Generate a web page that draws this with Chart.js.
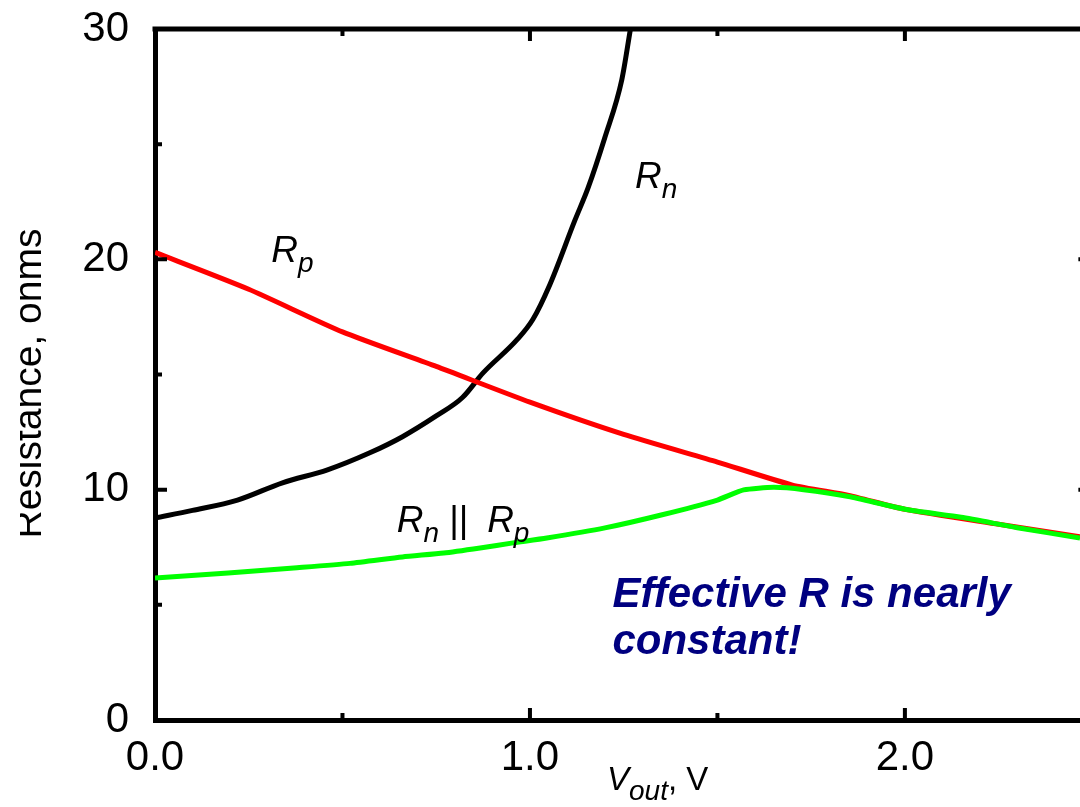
<!DOCTYPE html>
<html>
<head>
<meta charset="utf-8">
<script src="https://cdn.jsdelivr.net/npm/chart.js@4.4.0/dist/chart.umd.min.js"></script>
<style>
  html, body { margin: 0; padding: 0; background: #fff; overflow: hidden; }
  canvas { display: block; }
</style>
</head>
<body>
<canvas id="chart" width="1110" height="807"></canvas>
<script>
// Data (V_out in volts, resistance in ohms)
const vRn = [0, 0.10, 0.22, 0.34, 0.46, 0.573, 0.66, 0.75, 0.82, 0.875, 0.965, 1.008, 1.053, 1.12, 1.155, 1.20, 1.245, 1.268];
const rn  = [8.77, 9.1, 9.55, 10.3, 10.86, 11.6, 12.3, 13.2, 14.0, 15.07, 16.5, 17.4, 18.9, 21.7, 23.1, 25.3, 27.8, 30];

const vRp = [0, 0.25, 0.5, 0.75, 1.0, 1.25, 1.5, 1.7, 1.85, 2.0, 2.25, 2.467];
const rp  = [20.3, 18.7, 16.85, 15.35, 13.8, 12.4, 11.2, 10.2, 9.75, 9.15, 8.5, 7.95];

const vPar = [0, 0.195, 0.37, 0.52, 0.66, 0.77, 0.867, 0.955, 1.045, 1.2, 1.35, 1.5, 1.57, 1.65, 1.73, 1.85, 2.0, 2.15, 2.3, 2.467];
const rpar = [6.16, 6.38, 6.6, 6.8, 7.08, 7.25, 7.47, 7.69, 7.9, 8.34, 8.9, 9.55, 9.99, 10.1, 10.0, 9.7, 9.15, 8.8, 8.35, 7.9];

const yTicks = [0, 10, 20, 30];
const xTicks = [0, 1, 2];
const X_MAX = 2.467; // right edge of the picture (axis frame continues to 2.5)

// target plot frame in page pixels
const AREA_TOP = 29;
const AREA_RIGHT = 1080;

const FONT = '"Liberation Sans", Arial, sans-serif';

const toPts = (xs, ys) => xs.map((x, i) => ({ x: x, y: ys[i] }));
const near = (v, list) => list.some(t => Math.abs(v - t) < 1e-6);

// Inward tick marks, top frame line and the text labels
const decorPlugin = {
    id: 'decor',
    afterDraw(chart) {
        const ctx = chart.ctx;
        const xs = chart.scales.x;
        const ys = chart.scales.y;
        const a = chart.chartArea;
        ctx.save();
        ctx.strokeStyle = '#000';
        ctx.lineCap = 'butt';

        // top frame
        ctx.lineWidth = 5;
        ctx.beginPath();
        ctx.moveTo(a.left - 2.5, a.top);
        ctx.lineTo(a.right + 40, a.top);
        ctx.stroke();

        ctx.lineWidth = 4;
        const rightX = xs.getPixelForValue(2.5);
        [5, 10, 15, 20, 25].forEach(v => {
            const py = ys.getPixelForValue(v);
            const len = v % 10 === 0 ? 12 : 7;
            ctx.beginPath();
            ctx.moveTo(a.left, py); ctx.lineTo(a.left + len, py);
            ctx.moveTo(rightX, py); ctx.lineTo(rightX - len - 2, py);
            ctx.stroke();
        });
        [0.5, 1.0, 1.5, 2.0].forEach(v => {
            const px = xs.getPixelForValue(v);
            const len = Number.isInteger(v) ? 12 : 7;
            ctx.beginPath();
            ctx.moveTo(px, a.bottom); ctx.lineTo(px, a.bottom - len);
            ctx.moveTo(px, a.top); ctx.lineTo(px, a.top + len);
            ctx.stroke();
        });

        ctx.fillStyle = '#000';
        ctx.textBaseline = 'alphabetic';
        ctx.textAlign = 'left';

        // R with subscript helper
        const sub = (x, y, main, s, size, subSize) => {
            ctx.font = 'italic ' + size + 'px ' + FONT;
            ctx.fillText(main, x, y);
            const w = ctx.measureText(main).width;
            ctx.font = 'italic ' + subSize + 'px ' + FONT;
            ctx.fillText(s, x + w, y + 10);
            return x + w + ctx.measureText(s).width;
        };

        // curve labels
        sub(xs.getPixelForValue(0.31), ys.getPixelForValue(19.9), 'R', 'p', 37, 28);
        sub(xs.getPixelForValue(1.28), ys.getPixelForValue(23.1), 'R', 'n', 37, 28);
        const by = ys.getPixelForValue(8.16);
        const x0 = sub(xs.getPixelForValue(0.645), by, 'R', 'n', 37, 28);
        ctx.font = '37px ' + FONT;
        ctx.fillText('||', x0 + 10, by);
        sub(x0 + 48, by, 'R', 'p', 37, 28);

        // note
        ctx.fillStyle = '#000080';
        ctx.font = 'italic bold 42px ' + FONT;
        ctx.fillText('Effective R is nearly', xs.getPixelForValue(1.22), ys.getPixelForValue(4.9));
        ctx.fillText('constant!', xs.getPixelForValue(1.22), ys.getPixelForValue(2.87));

        // x axis title
        ctx.fillStyle = '#000';
        const vx = sub(607, 790, 'V', 'out', 33, 28);
        ctx.font = '33px ' + FONT;
        ctx.fillText(', V', vx, 790);

        // y axis title (clipped at the left like the source picture)
        ctx.save();
        ctx.beginPath();
        ctx.rect(20, 0, 140, 807);
        ctx.clip();
        ctx.translate(41, (a.top + a.bottom) / 2 + 9);
        ctx.rotate(-Math.PI / 2);
        ctx.textAlign = 'center';
        ctx.font = '39px ' + FONT;
        ctx.fillText('Resistance, ohms', 0, 0);
        ctx.restore();

        ctx.restore();
    }
};

const chart = new Chart(document.getElementById('chart'), {
    type: 'line',
    data: {
        datasets: [
            {
                label: 'Rn || Rp',
                data: toPts(vPar, rpar),
                borderColor: '#00ff00',
                borderWidth: 5,
                pointRadius: 0,
                tension: 0.2
            },
            {
                label: 'Rp',
                data: toPts(vRp, rp),
                borderColor: '#ff0000',
                borderWidth: 5,
                pointRadius: 0,
                tension: 0.2
            },
            {
                label: 'Rn',
                data: toPts(vRn, rn),
                borderColor: '#000000',
                borderWidth: 5,
                pointRadius: 0,
                cubicInterpolationMode: 'monotone'
            }
        ]
    },
    options: {
        responsive: false,
        animation: false,
        devicePixelRatio: 1,
        layout: { padding: { top: AREA_TOP, right: 0, left: 0, bottom: 0 } },
        plugins: {
            legend: { display: false },
            tooltip: { enabled: false }
        },
        scales: {
            x: {
                type: 'linear',
                min: 0,
                max: X_MAX,
                afterFit: (s) => { s.height = 87; },
                grid: { display: false, drawTicks: false },
                border: { display: true, color: '#000', width: 5 },
                ticks: {
                    stepSize: 0.5,
                    includeBounds: false,
                    autoSkip: false,
                    maxRotation: 0,
                    padding: 13,
                    color: '#000',
                    font: { family: FONT, size: 42 },
                    callback: (v) => near(v, xTicks) ? Number(v).toFixed(1) : ''
                }
            },
            y: {
                type: 'linear',
                min: 0,
                max: 30,
                afterFit: (s) => { s.width = 155; s.paddingTop = 0; s.paddingBottom = 0; },
                grid: { display: false, drawTicks: false },
                border: { display: true, color: '#000', width: 5 },
                ticks: {
                    stepSize: 5,
                    autoSkip: false,
                    padding: 26,
                    color: '#000',
                    font: { family: FONT, size: 42 },
                    callback: (v) => near(v, yTicks) ? String(Math.round(v)) : ''
                }
            }
        }
    },
    plugins: [decorPlugin]
});

// nudge the layout padding so the plot frame lands where the reference has it
const cfgPad = chart.config.options.layout.padding;
cfgPad.top = Math.max(0, cfgPad.top - (chart.chartArea.top - AREA_TOP));
cfgPad.right = Math.max(0, cfgPad.right + (chart.chartArea.right - AREA_RIGHT));
chart.update();
</script>
</body>
</html>
